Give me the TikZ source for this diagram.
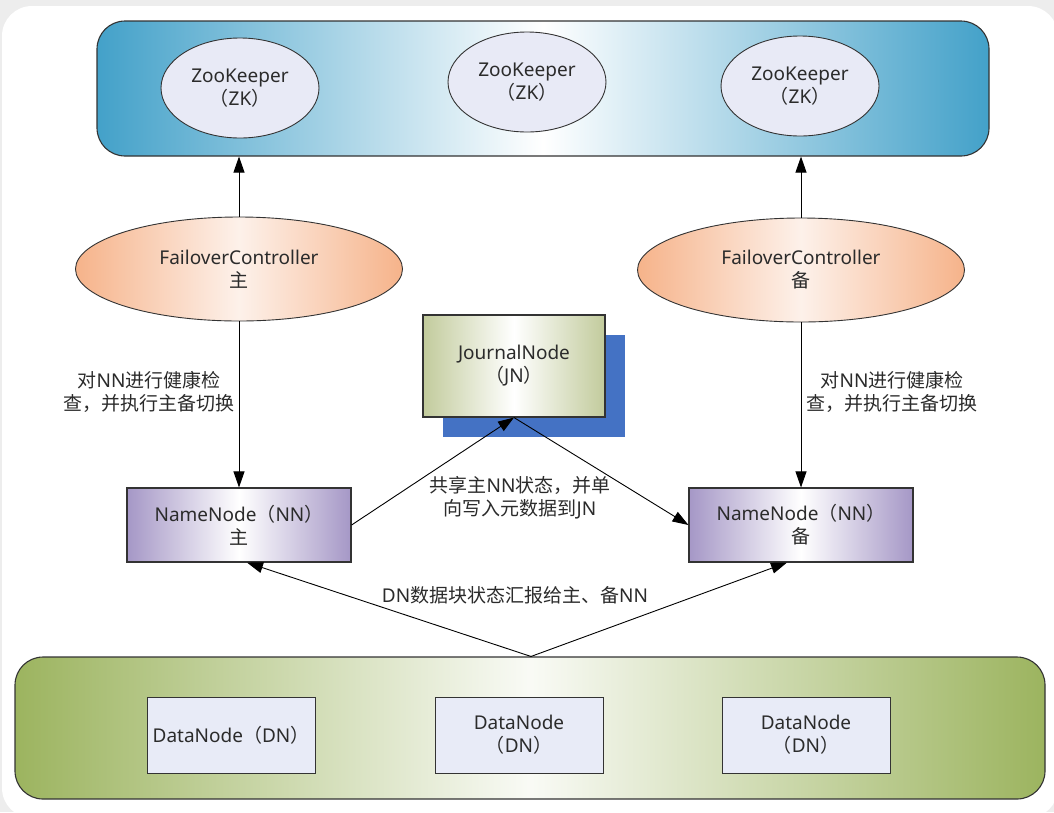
\documentclass[tikz,border=0pt]{standalone}
\usepackage{fontspec}
\setmainfont{Noto Sans}
\newfontfamily\cjk{Noto Sans CJK SC}
\usetikzlibrary{arrows.meta,shapes.geometric}
\newcommand\zhs[1]{{\cjk #1}}
\definecolor{bggray}{HTML}{EDEDED}
\definecolor{zkblue}{HTML}{43A1C9}
\definecolor{zkfill}{HTML}{E8EAF6}
\definecolor{fcorange}{HTML}{F6B38A}
\definecolor{fclight}{HTML}{FDF1EA}
\definecolor{nnpurple}{HTML}{A597C6}
\definecolor{jngreen}{HTML}{C2CB9C}
\definecolor{jnshadow}{HTML}{4472C4}
\definecolor{dngreen}{HTML}{9CB45F}
\definecolor{dnfill}{HTML}{E8EBF7}
\definecolor{edge}{HTML}{333333}
\definecolor{txt}{HTML}{2B2B2B}
\tikzset{
  txtstyle/.style={font=\fontsize{19pt}{23pt}\selectfont, text=txt, align=center},
  band/.style={draw=edge, line width=1.1pt, rounded corners=28pt, inner sep=0pt},
  zkband/.style={band, left color=zkblue, right color=zkblue, middle color=white},
  dnbandst/.style={band, left color=dngreen, right color=dngreen, middle color=white!94!dngreen},
  zkell/.style={ellipse, draw=edge, line width=0.9pt, fill=zkfill, inner sep=0pt,
     minimum width=158pt, minimum height=100pt, txtstyle},
  fcell/.style={ellipse, draw=edge, line width=0.9pt, inner sep=0pt,
     left color=fcorange, right color=fcorange, middle color=fclight,
     minimum width=327pt, minimum height=104pt, txtstyle},
  nnbox/.style={rectangle, draw=edge, line width=1.1pt, inner sep=0pt,
     left color=nnpurple, right color=nnpurple, middle color=white,
     minimum width=224pt, minimum height=74pt, txtstyle},
  jnbox/.style={rectangle, draw=edge, line width=1.1pt, inner sep=0pt,
     left color=jngreen, right color=jngreen, middle color=white,
     minimum width=182pt, minimum height=102pt, txtstyle},
  dnbox/.style={rectangle, draw=edge, line width=0.9pt, fill=dnfill, inner sep=0pt,
     minimum width=168pt, minimum height=76pt, txtstyle},
  lbl/.style={txtstyle, inner sep=0pt},
  arr/.style={draw=black, line width=0.9pt, -{Triangle[length=16pt,width=11pt]}},
}
\begin{document}
\begin{tikzpicture}[x=1pt,y=-1pt]
\useasboundingbox (0,0) rectangle (1054,812);
\begin{scope}
\clip (0,0) rectangle (1054,812);
\fill[bggray] (0,0) rectangle (1054,812);
\fill[white, rounded corners=30pt] (2,6) rectangle (1058,818);
\end{scope}

% ZooKeeper band
\node[zkband, minimum width=892pt, minimum height=135pt] (zkb) at (543,88.5) {};
\node[zkell] (zk1) at (240,88) {ZooKeeper\\\zhs{（}ZK\zhs{）}};
\node[zkell] (zk2) at (527,82) {ZooKeeper\\\zhs{（}ZK\zhs{）}};
\node[zkell] (zk3) at (800,86) {ZooKeeper\\\zhs{（}ZK\zhs{）}};

% Failover controllers
\node[fcell] (fc1) at (239,269) {FailoverController\\\zhs{主}};
\node[fcell] (fc2) at (801,270) {FailoverController\\\zhs{备}};

% JournalNode with shadow
\node[rectangle, fill=jnshadow, minimum width=182pt, minimum height=102pt, inner sep=0pt] (jnsh) at (534,386) {};
\node[jnbox] (jn) at (514,366) {JournalNode\\\zhs{（}JN\zhs{）}};

% NameNodes
\node[nnbox] (nn1) at (239,525) {NameNode\zhs{（}NN\zhs{）}\\\zhs{主}};
\node[nnbox] (nn2) at (801,525) {NameNode\zhs{（}NN\zhs{）}\\\zhs{备}};

% DataNode band
\node[dnbandst, minimum width=1030pt, minimum height=142pt] (dnb) at (530,728) {};
\node[dnbox] (dn1) at (231,735) {DataNode\zhs{（}DN\zhs{）}};
\node[dnbox] (dn2) at (519,735) {DataNode\\\zhs{（}DN\zhs{）}};
\node[dnbox] (dn3) at (806,735) {DataNode\\\zhs{（}DN\zhs{）}};

% Connectors
\draw[arr] (fc1.north) -- (fc1.north |- zkb.south);
\draw[arr] (fc2.north) -- (fc2.north |- zkb.south);
\draw[arr] (fc1.south) -- (nn1.north);
\draw[arr] (fc2.south) -- (nn2.north);
\draw[arr] (nn1.east) -- (jn.south);
\draw[arr] (jn.south) -- (nn2.west);
\coordinate (dntop) at ([xshift=1pt]dnb.north);
\draw[arr] (dntop) -- ([xshift=8pt]nn1.south);
\draw[arr] (dntop) -- ([xshift=-14pt]nn2.south);

% Labels
\node[lbl] (l1) at (149,392) {\zhs{对}NN\zhs{进行健康检}\\\zhs{查，并执行主备切换}};
\node[lbl] (l2) at (892,392) {\zhs{对}NN\zhs{进行健康检}\\\zhs{查，并执行主备切换}};
\node[lbl] (l3) at (520,498) {\zhs{共享主}NN\zhs{状态，并单}\\\zhs{向写入元数据到}JN};
\node[lbl] (l4) at (515,595) {DN\zhs{数据块状态汇报给主、备}NN};
\end{tikzpicture}
\end{document}
